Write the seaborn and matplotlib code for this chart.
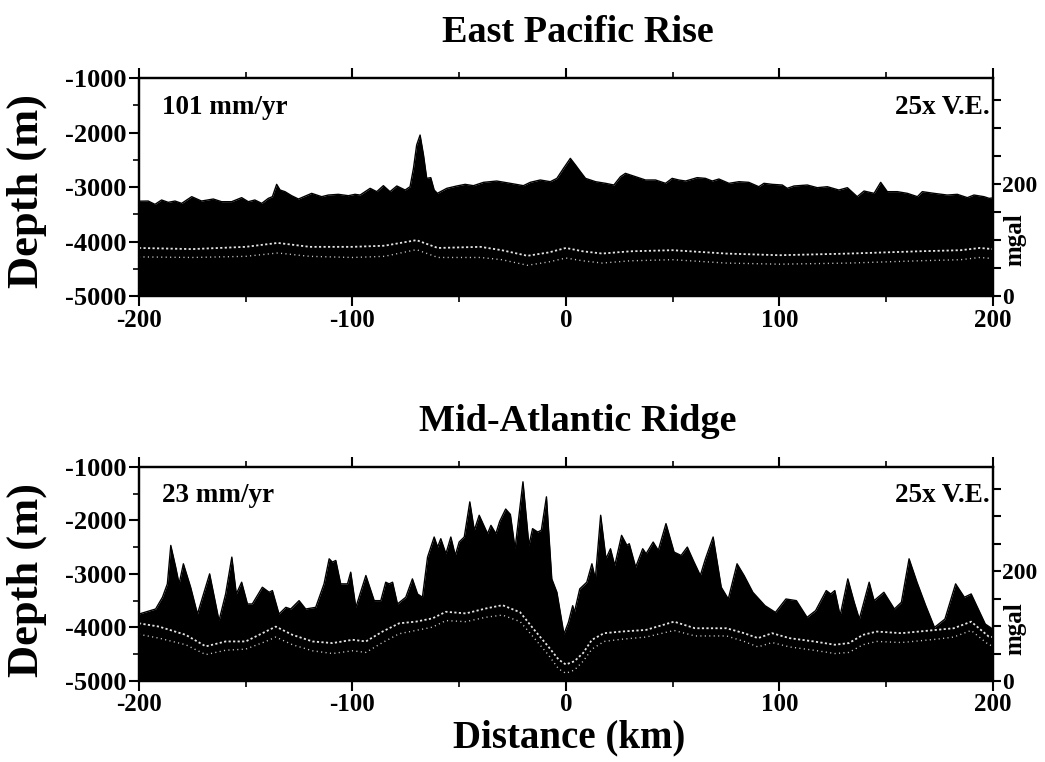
import numpy as np
import pandas as pd
import matplotlib
matplotlib.use("Agg")
import matplotlib.pyplot as plt
from matplotlib.ticker import MultipleLocator, FixedLocator, FuncFormatter
import seaborn as sns

# ---------------- East Pacific Rise: bathymetry (km, m) ----------------
epr_km = [-200, -195.7, -192.5, -189.4, -186.3, -183.1, -180.0, -175.3, -170.7, -165.2,
          -161.3, -156.6, -151.9, -148.8, -145.7, -142.5, -139.4, -137.5, -135.5, -133.9,
          -131.6, -128.5, -125.3, -119.1, -114.4, -111.3, -106.6, -101.9, -98.8, -96.4,
          -91.7, -88.6, -85.5, -82.4, -79.2, -75.3, -73.0, -71.4, -69.9, -68.3,
          -66.7, -65.2, -63.3, -61.7, -60.2, -55.8, -51.1, -47.2, -43.3, -38.6,
          -32.4, -26.1, -19.9, -16.7, -12.0, -7.3, -4.2, -1.1, 2.1, 4.5,
          6.8, 9.2, 13.9, 18.6, 22.5, 25.6, 27.9, 32.6, 37.3, 42.0,
          46.7, 49.8, 52.9, 56.1, 61.5, 65.4, 68.6, 71.7, 76.4, 81.1,
          85.7, 90.4, 92.8, 96.7, 101.4, 103.7, 106.9, 113.1, 117.8, 122.5,
          127.9, 131.9, 136.5, 139.7, 144.4, 147.5, 150.6, 155.3, 160.0, 164.7,
          167.0, 172.5, 178.7, 183.4, 188.1, 191.2, 195.9, 198.3, 200]
epr_depth = [-3260, -3257, -3318, -3238, -3281, -3257, -3300, -3177, -3257, -3220,
             -3269, -3269, -3195, -3269, -3238, -3300, -3208, -3177, -2951, -3055,
             -3085, -3159, -3220, -3116, -3177, -3147, -3134, -3159, -3134, -3147,
             -3024, -3085, -2975, -3085, -2981, -3055, -2994, -2657, -2229, -2046,
             -2413, -2841, -2828, -3055, -3116, -3024, -2981, -2951, -2975, -2914,
             -2890, -2932, -2975, -2914, -2871, -2902, -2841, -2657, -2474, -2596,
             -2718, -2841, -2902, -2932, -2963, -2810, -2749, -2810, -2871, -2871,
             -2932, -2841, -2871, -2890, -2828, -2841, -2890, -2853, -2932, -2902,
             -2914, -2994, -2932, -2951, -2963, -3024, -2981, -2963, -3012, -2994,
             -3055, -3012, -3177, -3073, -3116, -2914, -3085, -3085, -3116, -3177,
             -3085, -3116, -3147, -3134, -3195, -3147, -3177, -3208, -3200]

# East Pacific Rise: gravity anomaly curves (km, mgal)
epr_grav_km = [-200, -175, -150, -135, -120, -100, -85, -70, -60, -40, -30, -18, -8,
               0, 8, 17, 30, 50, 75, 100, 133, 165, 185, 194, 200]
epr_grav_hi = [86, 84, 88, 95, 88, 88, 90, 100, 86, 88, 82, 72, 78,
               86, 80, 76, 80, 82, 76, 73, 76, 80, 82, 86, 84]
epr_grav_lo = [70, 69, 71, 77, 71, 69, 71, 83, 69, 69, 65, 55, 61,
               68, 63, 59, 63, 65, 59, 57, 59, 63, 65, 69, 67]

# ---------------- Mid-Atlantic Ridge: bathymetry (km, m) ----------------
mar_km = [-200, -192.2, -189.0, -186.7, -185.1, -182.8, -181.2, -179.2, -175.8, -172.6,
          -166.9, -162.5, -159.4, -156.5, -154.4, -151.9, -149.2, -146.9, -142.2, -139.0,
          -137.5, -134.4, -131.2, -128.9, -125.0, -121.9, -117.2, -113.3, -110.9, -109.4,
          -107.8, -105.5, -102.3, -100.8, -98.4, -93.7, -89.8, -86.7, -84.4, -82.8,
          -81.2, -78.9, -75.0, -71.9, -69.5, -67.2, -64.8, -61.7, -60.1, -58.6,
          -56.2, -53.9, -51.8, -50.0, -47.6, -45.0, -42.9, -40.6, -36.7, -35.1,
          -32.8, -31.0, -28.2, -26.0, -23.8, -20.1, -17.3, -15.6, -13.2, -11.5,
          -9.1, -6.6, -4.2, -0.9, 1.2, 3.2, 4.0, 6.5, 9.8, 12.2,
          13.8, 16.3, 18.8, 20.9, 22.9, 26.1, 28.6, 29.7, 32.7, 36.0,
          37.6, 40.9, 43.3, 46.9, 50.7, 54.0, 56.9, 59.7, 63.0, 65.4,
          69.0, 72.8, 76.1, 80.2, 83.5, 87.6, 93.3, 98.2, 103.1, 108.0,
          113.0, 117.0, 122.0, 124.1, 126.0, 128.5, 132.1, 135.1, 137.5, 142.1,
          144.4, 149.0, 153.9, 157.2, 160.8, 164.5, 168.6, 172.7, 177.6, 182.6,
          186.7, 189.9, 193.2, 196.5, 200]
mar_depth = [-3750, -3656, -3437, -3187, -2469, -2875, -3187, -2812, -3250, -3750,
             -3000, -3875, -3375, -2687, -3375, -3156, -3562, -3562, -3250, -3344,
             -3312, -3750, -3625, -3656, -3500, -3656, -3625, -3187, -2719, -2781,
             -2750, -3187, -3187, -2969, -3625, -3031, -3500, -3500, -3156, -3187,
             -3156, -3562, -3437, -3094, -3375, -3437, -2687, -2312, -2500, -2344,
             -2625, -2312, -2656, -2406, -2312, -1656, -2187, -1906, -2250, -2094,
             -2250, -2020, -1790, -1890, -2531, -1281, -2469, -2156, -2219, -2187,
             -1562, -3094, -3344, -4125, -3906, -3594, -3719, -3281, -3156, -2812,
             -3094, -1906, -2719, -2531, -2844, -2281, -2469, -2437, -2875, -2531,
             -2625, -2406, -2562, -2062, -2594, -2656, -2500, -2750, -3031, -2719,
             -2312, -3250, -3469, -2812, -3031, -3344, -3594, -3719, -3469, -3500,
             -3812, -3687, -3312, -3375, -3312, -3781, -3094, -3531, -3844, -3156,
             -3500, -3344, -3656, -3531, -2719, -3156, -3594, -4000, -3844, -3187,
             -3437, -3375, -3656, -3937, -4031]

# Mid-Atlantic Ridge: gravity anomaly curves (km, mgal)
mar_grav_km = [-200, -190.6, -178.1, -168.7, -159.4, -150, -140.6, -135.9, -128.1, -118.7,
               -109.4, -99.9, -93.7, -85.9, -78.1, -70.3, -62.5, -56.2, -46.9, -37.5,
               -29.7, -21.4, -14.8, -8.3, -3.4, 0, 4.0, 8.1, 12.2, 17.9,
               26.1, 37.6, 50.7, 60.5, 75.3, 83.5, 90.0, 96.6, 104.8, 116.2,
               126.0, 132.6, 139.2, 145.7, 157.2, 173.5, 181.7, 189.9, 198.1, 200]
mar_grav_hi = [105, 99, 84, 63, 72, 72, 90, 99, 84, 72,
               69, 75, 72, 90, 105, 108, 114, 126, 123, 132,
               138, 125, 93, 63, 39, 30, 36, 51, 75, 87,
               90, 93, 108, 96, 96, 87, 78, 87, 78, 72,
               66, 69, 84, 90, 87, 93, 96, 108, 81, 80]
mar_grav_lo = [85, 78, 66, 48, 56, 58, 72, 80, 66, 55,
               50, 55, 52, 70, 86, 92, 98, 110, 108, 116,
               120, 108, 78, 48, 22, 14, 20, 36, 58, 72,
               76, 80, 92, 82, 82, 72, 62, 70, 62, 56,
               50, 52, 66, 72, 70, 76, 80, 92, 66, 64]

titles = ["East Pacific Rise", "Mid-Atlantic Ridge"]
rates = ["101 mm/yr", "23 mm/yr"]
x_ticks = [-200, -100, 0, 100, 200]
depth_ticks = [-1000, -2000, -3000, -4000, -5000]
mgal_ticks = [0, 50, 100, 150, 200, 250, 300, 350]
mgal_labels = {0: "0", 200: "200"}

sns.set_theme(style="ticks")
plt.rcParams["font.family"] = ["Liberation Serif", "DejaVu Serif"]
plt.rcParams["font.weight"] = "bold"
for key in ("text.color", "axes.labelcolor", "xtick.color", "ytick.color", "axes.edgecolor"):
    plt.rcParams[key] = "black"

fig = plt.figure(figsize=(10.45, 7.62), dpi=100)
rects = [[0.133, 0.6115, 0.817, 0.2861], [0.133, 0.1063, 0.817, 0.2812]]

panels = [
    (epr_km, epr_depth, epr_grav_km, epr_grav_hi, epr_grav_lo),
    (mar_km, mar_depth, mar_grav_km, mar_grav_hi, mar_grav_lo),
]

for i, (km, depth, gkm, ghi, glo) in enumerate(panels):
    ax = fig.add_axes(rects[i])
    bathy = pd.DataFrame({"km": km, "depth": depth})
    ax.fill_between(bathy["km"], bathy["depth"], -5000, color="black", lw=0, zorder=1)
    sns.lineplot(data=bathy, x="km", y="depth", ax=ax, color="black", lw=1.0,
                 sort=True, zorder=2)
    ax.set_xlim(-200, 200)
    ax.set_ylim(-5000, -1000)
    ax.set_xlabel("")
    ax.set_ylabel("")
    ax.xaxis.set_major_locator(FixedLocator(x_ticks))
    ax.xaxis.set_minor_locator(MultipleLocator(50))
    ax.yaxis.set_major_locator(FixedLocator(depth_ticks))
    ax.yaxis.set_minor_locator(MultipleLocator(500))
    ax.xaxis.set_major_formatter(FuncFormatter(lambda v, p: f"{int(v)}"))
    ax.yaxis.set_major_formatter(FuncFormatter(lambda v, p: f"{int(v)}"))
    ax.tick_params(axis="both", which="major", direction="out", length=7, width=1.5,
                   pad=2, colors="black")
    ax.tick_params(axis="x", which="major", labelsize=18)
    ax.tick_params(axis="y", which="major", labelsize=19)
    ax.tick_params(axis="both", which="minor", direction="out", length=4, width=1.2)
    ax.tick_params(top=True, right=False, which="both")
    for lab in ax.get_xticklabels() + ax.get_yticklabels():
        lab.set_fontweight("bold")
    for s in ax.spines.values():
        s.set_linewidth(1.6)
        s.set_color("black")

    # gravity anomaly on a second scale
    ax2 = ax.twinx()
    grav = pd.DataFrame({"km": gkm, "hi": ghi, "lo": glo})
    sns.lineplot(data=grav, x="km", y="hi", ax=ax2, color="white", lw=1.3,
                 linestyle=(0, (1.2, 1.3)), alpha=0.9)
    sns.lineplot(data=grav, x="km", y="lo", ax=ax2, color="white", lw=1.0,
                 linestyle=(0, (0.8, 2.4)), alpha=0.8)
    ax2.set_ylim(0, 390)
    ax2.set_xlim(-200, 200)
    ax2.set_ylabel("")
    ax2.yaxis.set_major_locator(FixedLocator(mgal_ticks))
    ax2.yaxis.set_major_formatter(FuncFormatter(lambda v, p: mgal_labels.get(int(round(v)), "")))
    ax2.tick_params(axis="y", direction="out", length=6, width=1.5, labelsize=17, pad=1,
                    colors="black")
    for lab in ax2.get_yticklabels():
        lab.set_fontweight("bold")
    for s in ax2.spines.values():
        s.set_linewidth(1.6)
        s.set_color("black")

    ax.text(0.027, 0.865, rates[i], transform=ax.transAxes, fontsize=19.5,
            fontweight="bold", ha="left", va="center", zorder=5)
    ax.text(0.997, 0.865, "25x V.E.", transform=ax.transAxes, fontsize=19.5,
            fontweight="bold", ha="right", va="center", zorder=5)

# titles and axis labels
fig.text(578 / 1045, 1 - 32 / 762, titles[0], fontsize=27.5, fontweight="bold",
         ha="center", va="center")
fig.text(578 / 1045, 1 - 421 / 762, titles[1], fontsize=27.5, fontweight="bold",
         ha="center", va="center")
for yc in (191, 580):
    fig.text(27 / 1045, 1 - yc / 762, "Depth (m)", fontsize=32, fontweight="bold",
             rotation=90, ha="center", va="center")
for yc in (240, 629):
    fig.text(1015 / 1045, 1 - yc / 762, "mgal", fontsize=18, fontweight="bold",
             rotation=90, ha="center", va="center")
fig.text(569 / 1045, 1 - 738 / 762, "Distance (km)", fontsize=28, fontweight="bold",
         ha="center", va="center")

fig.savefig("out.png", dpi=100, facecolor="white")
